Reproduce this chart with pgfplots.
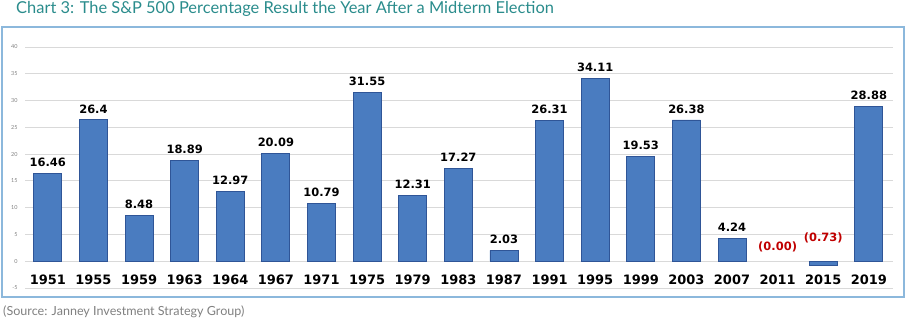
\documentclass[border=0pt]{standalone}
\usepackage{pgfplots}
\pgfplotsset{compat=1.18}
\usepackage{fontspec}
\setmainfont{Lato}
\newfontfamily\djv{DejaVu Sans}
\definecolor{titlecol}{HTML}{2A8C8C}
\definecolor{barfill}{HTML}{4A7CC0}
\definecolor{bardraw}{HTML}{2F5597}
\definecolor{boxcol}{HTML}{8CB8DC}
\definecolor{gridcol}{HTML}{D9D9D9}
\definecolor{negred}{HTML}{C00000}
\begin{document}
\begin{tikzpicture}[x=1bp,y=1bp]
\path[use as bounding box] (0,0) rectangle (913,324);
\draw[boxcol, line width=1.2bp] (2,27) rectangle (904,297);
\node[anchor=west, text=titlecol, font=\fontsize{16.5}{18}\selectfont, inner sep=0pt] at (16,315) {Chart 3: The S\&P 500 Percentage Result the Year After a Midterm Election};
\node[anchor=west, text=gray, font=\fontsize{12.6}{14}\selectfont, inner sep=0pt] at (3,12) {(Source: Janney Investment Strategy Group)};
\begin{axis}[at={(25bp,36bp)}, anchor=south west, scale only axis,
  width=868bp, height=241bp,
  xmin=-0.5, xmax=18.53, ymin=-5, ymax=40,
  ytick={-5,0,...,40}, ymajorgrids,
  grid style={gridcol, line width=0.8bp},
  axis line style={draw=none}, major tick length=0pt,
  xtick={0,...,18},
  xticklabels={1951,1955,1959,1963,1964,1967,1971,1975,1979,1983,1987,1991,1995,1999,2003,2007,2011,2015,2019},
  xticklabel style={anchor=center, yshift=8bp, font=\djv\bfseries\fontsize{13}{15}\selectfont},
  yticklabel style={font=\fontsize{5.5}{6}\selectfont, text=gray, xshift=-4bp},
  /pgf/number format/assume math mode=true,
  clip=false]
\addplot[ybar, bar width=28bp, fill=barfill, draw=bardraw, line width=0.8bp] coordinates {
(0,16.46) (1,26.4) (2,8.48) (3,18.89) (4,12.97) (5,20.09) (6,10.79) (7,31.55) (8,12.31) (9,17.27)
(10,2.03) (11,26.31) (12,34.11) (13,19.53) (14,26.38) (15,4.24) (17,-0.73) (18,28.88)};
\addplot[draw=none, mark=none, nodes near coords, point meta=explicit symbolic,
  nodes near coords style={anchor=center, yshift=11bp, text=black, font=\djv\bfseries\fontsize{11.5}{13}\selectfont}] coordinates {
(0,16.46)[16.46] (1,26.4)[26.4] (2,8.48)[8.48] (3,18.89)[18.89] (4,12.97)[12.97] (5,20.09)[20.09]
(6,10.79)[10.79] (7,31.55)[31.55] (8,12.31)[12.31] (9,17.27)[17.27] (10,2.03)[2.03] (11,26.31)[26.31]
(12,34.11)[34.11] (13,19.53)[19.53] (14,26.38)[26.38] (15,4.24)[4.24] (18,28.88)[28.88]};
\addplot[draw=none, mark=none, nodes near coords, point meta=explicit symbolic,
  nodes near coords style={anchor=center, text=negred, font=\djv\bfseries\fontsize{11.5}{13}\selectfont}] coordinates {
(16,2.6)[(0.00)] (17,4.3)[(0.73)]};
\end{axis}
\end{tikzpicture}
\end{document}
